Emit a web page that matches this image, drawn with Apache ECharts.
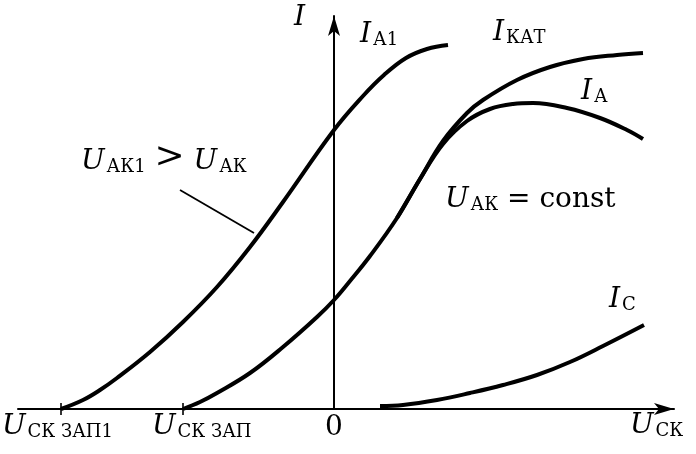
<!DOCTYPE html>
<html>
<head>
<meta charset="utf-8">
<script src="https://cdn.jsdelivr.net/npm/echarts@6/dist/echarts.min.js"></script>
<style>
html,body{margin:0;padding:0;background:#fff;}
#main{width:696px;height:454px;}
</style>
</head>
<body>
<div id="main"></div>
<script>
// grid voltage U_ck (arbitrary units, 0 = origin) vs current I
var ia1Data = [[-273,0],[-251,9],[-234,19],[-217,31],[-184,57],[-151,87],[-117,122],[-84,162],[-51,207],[0,279],[29,313],[50,334],[72,351],[93,360],[114,364]];
var iaData = [[-151,0],[-134,7],[-117,16],[-84,36],[-51,62],[-17,92],[0,109],[16,128],[36,153],[63,191],[86,230],[109,265],[133,288],[156,300],[179,305],[199,306],[233,301],[266,291],[293,279],[309,270]];
var ikatData = [[63,191],[86,230],[109,268],[133,296],[149,309],[183,329],[216,342],[249,350],[283,354],[309,356]];
var icData = [[46,3],[69,4],[103,9],[136,16],[169,24],[203,34],[236,47],[269,63],[310,84]];
var cutoffs = [-273, -151];          // U ск зап1, U ск зап
var pointer = [[-154,219],[-80,176]]; // выноска к кривой I_A1

var serif = 'DejaVu Serif';
var rich = {
	m: {fontFamily: serif, fontStyle: 'italic', fontSize: 28, lineHeight: 28, verticalAlign: 'bottom', color: '#000'},
	s: {fontFamily: serif, fontSize: 18, lineHeight: 11, verticalAlign: 'bottom', padding: [0,0,0,2], color: '#000'},
	t: {fontFamily: serif, fontSize: 28, lineHeight: 28, verticalAlign: 'bottom', color: '#000'},
	g: {fontFamily: serif, fontSize: 36, lineHeight: 28, verticalAlign: 'bottom', color: '#000'}
};

function label(x, y, text) {
	return {
		type: 'text', x: x, y: y, silent: true,
		style: {text: text, rich: rich, align: 'left', verticalAlign: 'bottom'}
	};
}

function curve(data) {
	return {
		type: 'line', data: data, smooth: 0.4, symbol: 'none', silent: true,
		lineStyle: {color: '#000', width: 4}
	};
}

var chart = echarts.init(document.getElementById('main'), null, {renderer: 'canvas'});

var option = {
	animation: false,
	backgroundColor: '#fff',
	grid: {left: 18, right: 22, top: 16, bottom: 45},
	xAxis: {
		type: 'value', min: -316, max: 340,
		axisLine: {onZero: true, symbol: ['none','arrow'], symbolSize: [9,20], lineStyle: {color: '#000', width: 2}},
		axisTick: {show: false}, axisLabel: {show: false}, splitLine: {show: false}
	},
	yAxis: {
		type: 'value', min: 0, max: 393,
		axisLine: {onZero: true, symbol: ['none','arrow'], symbolSize: [9,20], lineStyle: {color: '#000', width: 2}},
		axisTick: {show: false}, axisLabel: {show: false}, splitLine: {show: false}
	},
	series: [
		curve(ia1Data),
		curve(iaData),
		curve(ikatData),
		curve(icData),
		{
			type: 'line', data: pointer, symbol: 'none', silent: true,
			lineStyle: {color: '#000', width: 1.8}
		},
		{
			type: 'scatter', silent: true, symbol: 'rect', symbolSize: [2,12],
			itemStyle: {color: '#000'},
			data: cutoffs.map(function (v) { return [v, 0]; })
		}
	],
	graphic: [
		label(294, 32, '{m|I}'),
		label(360, 49, '{m|I}{s|А1}'),
		label(493, 47, '{m|I}{s|КАТ}'),
		label(581, 106, '{m|I}{s|А}'),
		label(609, 314, '{m|I}{s|С}'),
		label(445, 214, '{m|U}{s|АК}{t| = const}'),
		label(81, 176, '{m|U}{s|АК1}{t| }{g|>}{t| }{m|U}{s|АК}'),
		label(2, 441, '{m|U}{s|СК ЗАП1}'),
		label(152, 441, '{m|U}{s|СК ЗАП}'),
		label(325, 442, '{t|0}'),
		label(630, 440, '{m|U}{s|СК}')
	]
};

chart.setOption(option);
</script>
</body>
</html>
